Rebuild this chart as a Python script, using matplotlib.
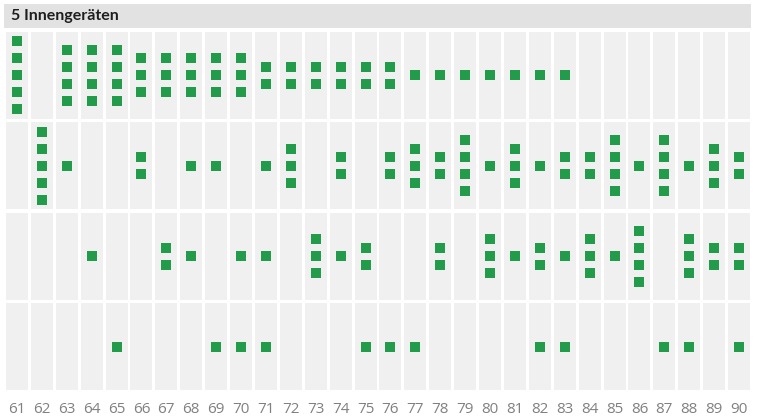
import numpy as np
import matplotlib.pyplot as plt
from matplotlib.patches import Rectangle

title = "5 Innengeräten"
columns = list(range(61, 91))

row1 = [5, 0, 4, 4, 4, 3, 3, 3, 3, 3, 2, 2, 2, 2, 2, 2, 1, 1, 1, 1, 1, 1, 1, 0, 0, 0, 0, 0, 0, 0]
row2 = [0, 5, 1, 0, 0, 2, 0, 1, 1, 0, 1, 3, 0, 2, 0, 2, 3, 2, 4, 1, 3, 1, 2, 2, 4, 1, 4, 1, 3, 2]
row3 = [0, 0, 0, 1, 0, 0, 2, 1, 0, 1, 1, 0, 3, 1, 2, 0, 0, 2, 0, 3, 1, 2, 1, 3, 1, 4, 0, 3, 2, 2]
row4 = [0, 0, 0, 0, 1, 0, 0, 0, 1, 1, 1, 0, 0, 0, 1, 1, 1, 0, 0, 0, 0, 1, 1, 0, 0, 0, 1, 1, 0, 1]
rows = [row1, row2, row3, row4]

green = "#229c4b"
cell_bg = "#f0f0f0"
W, H = 759, 416

fig = plt.figure(figsize=(W / 100, H / 100), dpi=100)
fig.patch.set_facecolor("white")

# title bar
tax = fig.add_axes([4 / W, 1 - 28 / H, 747 / W, 24 / H])
tax.set_facecolor("#e2e2e2")
tax.set_xticks([])
tax.set_yticks([])
for s in tax.spines.values():
    s.set_visible(False)
tax.text(7 / 747, 0.5, title, fontsize=11.5, fontweight="bold", family="Lato",
         color="#1e1e1e", va="center", ha="left", transform=tax.transAxes)

# grid
ax = fig.add_axes([4.5 / W, (H - 392) / H, 747 / W, 362 / H])
ax.set_xlim(-0.5, len(columns) - 0.5)
ax.set_ylim(len(rows), 0)
for s in ax.spines.values():
    s.set_visible(False)

gx = 0.06
gy = 0.018
pitch = 17 / 90.5
for r, counts in enumerate(rows):
    for i, n in enumerate(counts):
        ax.add_patch(Rectangle((i - 0.5 + gx, r + gy), 1 - 2 * gx, 1 - 2 * gy,
                               facecolor=cell_bg, edgecolor="none", zorder=1))
        if n:
            offs = (np.arange(n) - (n - 1) / 2) * pitch
            ax.scatter(np.full(n, i), r + 0.5 + offs, marker="s", s=52,
                       color=green, linewidths=0, zorder=2)

ax.set_yticks([])
ax.set_xticks(range(len(columns)))
ax.set_xticklabels([str(c) for c in columns], family="Open Sans", fontsize=11, color="#808080")
ax.tick_params(axis="x", length=0, pad=7)

fig.savefig("out.png", dpi=100)
